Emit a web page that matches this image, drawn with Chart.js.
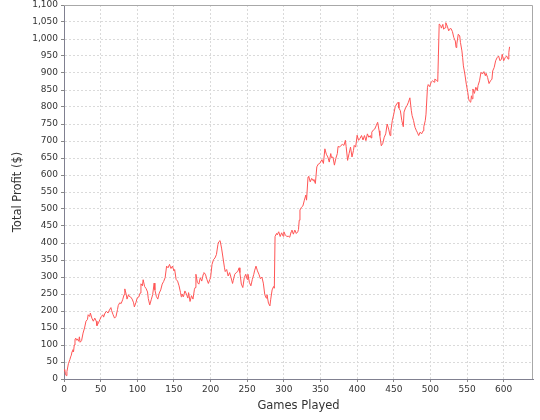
<!DOCTYPE html>
<html><head><meta charset="utf-8">
<script src="https://cdn.jsdelivr.net/npm/chart.js@4"></script>
<style>html,body{margin:0;padding:0;background:#fff}</style>
</head><body>
<canvas id="c" width="540" height="420"></canvas>
<script>
const games = [
  0,1,2,3,4,6,8,9,10,11,
  12,13,14,15,16,17,18,20,21,22,
  24,26,28,30,32,33,35,36,38,40,
  42,44,45,47,49,51,53,54,56,58,
  60,62,64,65,67,69,71,73,74,76,
  78,80,82,83,85,86,88,89,91,93,
  95,96,98,100,102,104,105,107,108,110,
  112,114,115,117,119,121,123,124,126,128,
  130,132,134,136,138,140,142,144,146,148,
  150,151,153,155,157,159,160,161,163,165,
  167,169,170,172,174,176,178,179,180,182,
  184,186,188,190,191,193,195,197,199,200,
  202,204,206,208,210,211,213,215,217,219,
  220,222,224,226,228,230,231,233,235,237,
  239,240,242,244,246,248,250,251,253,255,
  257,259,260,262,264,266,268,270,272,274,
  276,277,279,281,282,284,286,287,288,290,
  291,293,295,297,299,300,302,304,306,308,
  310,311,313,315,317,319,320,321,322,324,
  326,328,330,331,333,334,336,338,340,341,
  343,345,347,349,350,352,354,356,358,360,
  362,364,365,367,369,371,373,374,376,378,
  380,382,384,385,387,389,391,393,395,396,
  398,400,402,404,406,408,410,412,414,416,
  418,419,420,422,424,426,428,430,431,433,
  435,437,439,441,443,445,446,448,450,452,
  454,456,457,459,461,463,464,466,468,470,
  472,474,475,477,479,481,482,484,486,488,
  490,491,493,494,496,497,499,501,503,505,
  506,508,510,512,514,515,517,518,520,521,
  523,525,526,528,530,532,534,535,536,538,
  540,541,543,544,545,547,549,551,552,553,
  555,556,557,558,560,562,564,565,567,569,
  571,573,575,576,578,580,582,584,585,587,
  589,591,593,595,597,598,600,602,604,606,
  607,608
];
const profit = [
  25,28,15,10,22,45,57,65,70,81,
  86,80,100,116,120,114,118,111,124,108,
  113,135,150,170,175,189,184,194,179,170,
  179,170,157,165,175,184,189,182,194,199,
  194,203,210,201,189,179,184,204,216,224,
  222,233,248,265,248,235,248,243,241,235,
  224,212,224,239,241,253,280,274,292,272,
  266,256,237,218,233,248,282,262,243,235,
  253,262,279,287,298,332,327,337,325,332,
  318,322,293,288,274,254,242,250,242,259,
  250,238,254,228,245,235,264,269,308,284,
  279,298,288,308,313,308,293,281,293,298,
  337,351,356,366,395,403,407,385,356,327,
  316,322,303,313,298,281,290,308,313,316,
  327,313,279,269,298,308,293,308,284,274,
  293,308,318,332,318,308,295,300,282,248,
  238,248,223,215,233,262,272,267,419,428,
  424,433,419,430,420,433,424,419,420,417,
  433,438,426,438,428,433,440,467,497,505,
  509,526,541,526,594,596,580,590,583,587,
  575,624,632,634,638,645,634,677,661,653,
  638,663,651,653,629,649,663,684,682,687,
  690,687,702,684,643,663,682,653,672,687,
  682,717,702,708,716,703,716,701,721,711,
  716,709,726,732,735,745,755,730,716,686,
  693,711,721,750,735,716,730,760,779,801,
  809,814,797,789,760,742,785,797,804,814,
  827,789,775,760,740,730,726,716,726,721,
  730,742,760,779,858,866,860,873,877,873,
  882,879,875,1044,1040,1032,1043,1029,1033,1048,
  1038,1024,1029,1031,1022,1004,994,975,985,1014,
  1009,990,965,945,921,897,867,843,826,818,
  814,833,824,853,840,858,848,863,877,902,
  897,904,892,899,887,869,877,882,906,916,
  936,945,950,936,941,955,936,945,950,941,
  960,977
];
const xAxisTitle = "Games Played";
const yAxisTitle = "Total Profit ($)";
const xRange = [0, 640];
const yRange = [0, 1100];
const xStep = 50;
const yStep = 50;

const points = games.map((g, i) => ({x: g, y: profit[i]}));

const outline = {
  id: 'outline',
  afterDraw(chart) {
    const {ctx, chartArea: a} = chart;
    ctx.save();
    ctx.strokeStyle = '#a8a8a8';
    ctx.lineWidth = 1;
    ctx.setLineDash([]);
    ctx.beginPath();
    ctx.moveTo(a.left, Math.round(a.top) + 0.5);
    ctx.lineTo(Math.round(a.right) - 0.5, Math.round(a.top) + 0.5);
    ctx.lineTo(Math.round(a.right) - 0.5, a.bottom);
    ctx.stroke();
    ctx.restore();
  }
};
const bg = {
  id: 'bg',
  beforeDraw(chart) {
    const {ctx, width, height} = chart;
    ctx.save(); ctx.fillStyle = '#fff'; ctx.fillRect(0, 0, width, height); ctx.restore();
  }
};

const tickFont = {family: 'DejaVu Sans', size: 9};
const titleFont = {family: 'DejaVu Sans', size: 11.5};

new Chart(document.getElementById('c'), {
  type: 'line',
  data: {
    datasets: [{
      data: points,
      borderColor: '#ff5555',
      borderWidth: 1,
      pointRadius: 0,
      fill: false,
      tension: 0
    }]
  },
  options: {
    responsive: false,
    animation: false,
    events: [],
    layout: {padding: {left: 0, right: 7, top: 0, bottom: 0}},
    plugins: {legend: {display: false}, tooltip: {enabled: false}},
    scales: {
      x: {
        type: 'linear',
        min: xRange[0], max: xRange[1],
        afterFit(s) { s.height = 41; s.paddingLeft = 0; s.paddingRight = 0; },
        ticks: {stepSize: xStep, includeBounds: false, font: tickFont, color: '#333', padding: 2, maxRotation: 0},
        grid: {color: '#dadada', tickLength: 3, tickColor: '#888', tickBorderDash: []},
        border: {display: true, color: '#808090', width: 1, dash: [2, 2]},
        title: {display: true, text: xAxisTitle, font: titleFont, color: '#333', padding: {top: 0, bottom: 7}}
      },
      y: {
        type: 'linear',
        min: yRange[0], max: yRange[1],
        afterFit(s) { s.width = 64; s.paddingTop = 5; s.paddingBottom = 0; },
        ticks: {stepSize: yStep, includeBounds: false, font: tickFont, color: '#333', padding: 3},
        grid: {color: '#dadada', tickLength: 3, tickColor: '#888', tickBorderDash: []},
        border: {display: true, color: '#808090', width: 1, dash: [2, 2]},
        title: {display: true, text: yAxisTitle, font: titleFont, color: '#333', padding: {top: 11, bottom: 0}}
      }
    }
  },
  plugins: [bg, outline]
});
</script>
</body></html>
